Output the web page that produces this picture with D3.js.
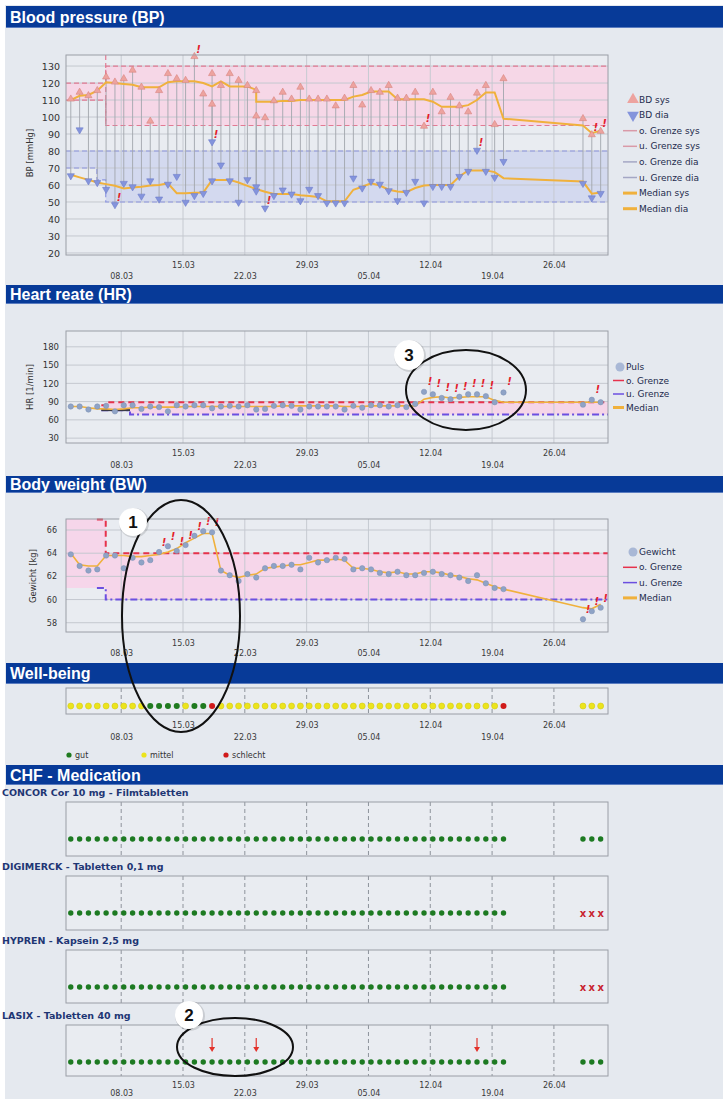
<!DOCTYPE html>
<html>
<head>
<meta charset="utf-8">
<title>Telemonitoring</title>
<script src="https://cdn.jsdelivr.net/npm/d3@7/dist/d3.min.js"></script>
<style>
  body { margin: 0; background: #ffffff; }
  svg { display: block; }
</style>
</head>
<body>
<script>
// ---- data ----
const tickLabels = ['08.03', '15.03', '22.03', '29.03', '05.04', '12.04', '19.04', '26.04'];

// measurement days (HR, BW, well-being, medication)
const days = ['02.03', '03.03', '04.03', '05.03', '06.03', '07.03', '08.03', '09.03', '10.03', '11.03',
  '12.03', '13.03', '14.03', '15.03', '16.03', '17.03', '18.03', '19.03', '20.03', '21.03',
  '22.03', '23.03', '24.03', '25.03', '26.03', '27.03', '28.03', '29.03', '30.03', '31.03',
  '01.04', '02.04', '03.04', '04.04', '05.04', '06.04', '07.04', '08.04', '09.04', '10.04',
  '11.04', '12.04', '13.04', '14.04', '15.04', '16.04', '17.04', '18.04', '19.04', '20.04',
  '29.04', '30.04', '01.05'];

// blood pressure (two readings on 18.03 and 23.03)
const bpDays = ['02.03', '03.03', '04.03', '05.03', '06.03', '07.03', '08.03', '09.03', '10.03', '11.03',
  '12.03', '13.03', '14.03', '15.03', '16.03', '17.03', '18.03', '18.03', '19.03', '20.03',
  '21.03', '22.03', '23.03', '23.03', '24.03', '25.03', '26.03', '27.03', '28.03', '29.03',
  '30.03', '31.03', '01.04', '02.04', '03.04', '04.04', '05.04', '06.04', '07.04', '08.04',
  '09.04', '10.04', '11.04', '12.04', '13.04', '14.04', '15.04', '16.04', '17.04', '18.04',
  '19.04', '20.04', '29.04', '30.04', '01.05'];
const bpSys = [110, 114, 112, 115, 123, 120, 122, 127, 117, 97,
  115, 125, 122, 121, 135, 113, 125, 107, 118, 125,
  121, 118, 115, 100, 99, 109, 114, 110, 117, 110,
  110, 110, 106, 110.5, 118, 106.5, 115, 114, 118, 110.5,
  110.5, 114, 94, 114, 102.5, 111, 106, 102.5, 113.5, 118,
  95, 122, 98.5, 89, 91];
const bpDia = [66, 93, 63, 62, 58, 49, 61.5, 59.5, 54, 63,
  52.3, 61, 65.6, 50.4, 54.3, 55.6, 63, 86, 72.3, 63,
  50.4, 63.7, 59.5, 57, 47, 54.3, 57.6, 55.2, 51.3, 58,
  54.3, 50, 50, 50, 64.6, 58.8, 62.7, 61, 57.2, 51.3,
  56.2, 62.7, 50, 59.7, 59.7, 59.7, 65.6, 68.6, 81, 68.6,
  65, 74.4, 61.5, 53, 55.6];
const bpMedianSys = [110, 112.5, 113, 115.5, 120.5, 120, 119.5, 119, 117.5, 117.5,
  117.5, 120.5, 121, 121, 121, 120, 118, 118, 121, 118,
  118, 118, 116, 109, 109, 109, 109.5, 109.5, 110, 110,
  110, 110, 110, 110, 112, 113, 115, 115, 115, 110.5,
  110.5, 110.5, 110.5, 109, 106, 106, 106, 107, 110, 114.5,
  114.5, 99, 95, 90.5, 92];
const bpMedianDia = [66, 64.5, 63, 61.5, 60.5, 59.5, 58, 58.5, 59, 59.7,
  60, 61, 55.2, 55.2, 55.4, 55.6, 63, 63, 63, 63,
  61.5, 59.5, 57.6, 57.6, 56, 54.7, 54.7, 54.7, 54, 53.5,
  53, 50.4, 50.4, 50.4, 57.2, 59, 61, 59.7, 57.2, 56.2,
  55.8, 58.2, 59.7, 60, 60, 60, 65, 68.6, 68.6, 68.6,
  67.6, 64, 62, 54.9, 55.6];
const bpLimitTimes = ['01.03 18', '05.03 06', '06.03 06', '02.05 03'];
const sysUpperLimit = [120, 120, 130, 130];
const sysLowerLimit = [110, 110, 95, 95];
const diaUpperLimit = [80, 80, 80, 80];
const diaLowerLimit = [70, 63, 50, 50];

// heart rate
const hrValues = [82, 82, 77, 82, 83, 74, 84, 84, 78, 82,
  81, 74, 84, 82, 84, 84, 79, 82, 83, 82,
  84, 77, 78, 83, 84, 83, 77, 82, 82, 82,
  82, 77, 83, 80, 84, 84, 82, 84, 81, 86,
  106, 102, 96, 94, 98, 102, 102, 99, 89, 105,
  85, 93, 89];
const hrMedian = [82, 82, 80, 78, 78, 77, 78, 80, 80, 81,
  81, 81, 81, 82, 82, 82, 82, 82, 82, 82,
  82, 82, 82, 82, 83, 83, 83, 83, 83, 83,
  83, 82, 82, 82, 83, 83, 83, 83, 83, 83,
  94, 97, 98, 96, 97, 98, 98, 98, 92, 89,
  89, 89, 89];
const hrLimitTimes = ['05.03 18', '06.03 06', '09.03 00', '02.05 03'];
const hrUpperLimit = [84, 89, 89, 89];
const hrLowerLimit = [76, 76, 69, 69];

// body weight
const bwValues = [63.9, 62.9, 62.5, 62.6, 63.8, 63.8, 62.7, 63.6, 63.2, 63.4,
  64.1, 64.6, 64.2, 64.7, 65.5, 65.9, 65.8, 62.5, 62.1, 61.6,
  62.2, 61.9, 62.7, 62.9, 62.9, 63.0, 62.6, 63.6, 63.2, 63.4,
  63.6, 63.5, 62.6, 62.7, 62.6, 62.3, 62.2, 62.4, 62.1, 62.1,
  62.3, 62.4, 62.2, 62.1, 61.9, 61.6, 62.1, 61.4, 61.0, 60.9,
  58.3, 59.0, 59.3];
const bwMedian = [64.0, 63.0, 62.9, 62.9, 63.8, 63.8, 63.8, 63.7, 63.7, 63.8,
  63.9, 64.1, 64.4, 64.9, 65.3, 65.7, 65.7, 62.5, 62.1, 61.9,
  62.1, 62.2, 62.7, 62.8, 62.9, 63.0, 63.0, 63.2, 63.4, 63.4,
  63.5, 63.4, 62.7, 62.7, 62.6, 62.4, 62.3, 62.4, 62.2, 62.2,
  62.4, 62.4, 62.3, 62.1, 62.0, 61.8, 61.7, 61.4, 61.1, 60.9,
  59.3, 59.2, 59.6];
const bwLimitTimes = ['01.03 18', '05.03 06', '06.03 06', '02.05 03'];
const bwUpperLimit = [67, 67, 64, 64];
const bwLowerLimit = [61, 61, 60, 60];

// well-being: g = gut, m = mittel, s = schlecht
const wellBeing = ('mmmmmmmmm' + 'gggg' + 'm' + 'gg' + 's' +
  'mmmmmmmm' + 'mmmmmmmm' + 'mmmmmmmm' + 'mmmmmmmm' + 's' + 'mmm').split('');
const wellLegend = [['g', 'gut'], ['m', 'mittel'], ['s', 'schlecht']];

// medication intake: o = taken, x = not taken
const medNames = ['CONCOR Cor 10 mg - Filmtabletten', 'DIGIMERCK - Tabletten 0,1 mg',
  'HYPREN - Kapsein 2,5 mg', 'LASIX - Tabletten 40 mg'];
const medIntake = [
  ('oooooooooo' + 'oooooooooo' + 'oooooooooo' + 'oooooooooo' + 'oooooooooo' + 'ooo').split(''),
  ('oooooooooo' + 'oooooooooo' + 'oooooooooo' + 'oooooooooo' + 'oooooooooo' + 'xxx').split(''),
  ('oooooooooo' + 'oooooooooo' + 'oooooooooo' + 'oooooooooo' + 'oooooooooo' + 'xxx').split(''),
  ('oooooooooo' + 'oooooooooo' + 'oooooooooo' + 'oooooooooo' + 'oooooooooo' + 'ooo').split('')
];
const lasixChanges = ['18.03', '23.03', '17.04'];

// ---- setup ----
const W = 723, H = 1099;
const FONT = '"DejaVu Sans", Verdana, sans-serif';
const HEAD_FONT = '"Liberation Sans", Arial, sans-serif';

function toDate(s, hour = 7) {
  const [dm, h] = s.split(' ');
  const [d, m] = dm.split('.').map(Number);
  return new Date(2008, m - 1, d, h === undefined ? hour : +h);
}

const x = d3.scaleTime().domain([toDate('01.03 18'), toDate('02.05 03')]).range([66, 608]);
const tickDates = tickLabels.map(s => toDate(s, 0));
const dayDates = days.map(d => toDate(d));

const svg = d3.select('body').append('svg').attr('width', W).attr('height', H);
svg.append('rect').attr('width', W).attr('height', H).attr('fill', '#e5e9ef');
svg.append('rect').attr('width', W).attr('height', 5).attr('fill', '#fff');
svg.append('rect').attr('width', 5).attr('height', H).attr('fill', '#fff');

function header(top, bottom, title) {
  svg.append('rect').attr('x', 6).attr('y', top).attr('width', W - 6).attr('height', bottom - top).attr('fill', '#073a98');
  svg.append('rect').attr('x', 6).attr('y', bottom - 1).attr('width', W - 6).attr('height', 1).attr('fill', '#5a7cc0');
  svg.append('text').attr('x', 10).attr('y', (top + bottom) / 2).attr('dy', '0.36em')
    .attr('font-family', HEAD_FONT).attr('font-weight', 'bold').attr('font-size', 16)
    .attr('fill', '#fff').text(title);
}

function plotBox(g, top, bottom) {
  g.append('rect').attr('x', 66).attr('y', top).attr('width', 542).attr('height', bottom - top).attr('fill', '#e9ecf1');
}

function grid(g, top, bottom, y, yTicks, dashed) {
  g.append('g').selectAll('line').data(tickDates).join('line')
    .attr('x1', d => x(d)).attr('x2', d => x(d)).attr('y1', top).attr('y2', bottom)
    .attr('stroke', dashed ? '#8e939b' : '#c6cad1').attr('stroke-width', 1)
    .attr('stroke-dasharray', dashed ? '4,3' : null);
  if (y) {
    g.append('g').selectAll('line').data(yTicks).join('line')
      .attr('x1', 66).attr('x2', 608).attr('y1', d => y(d)).attr('y2', d => y(d))
      .attr('stroke', '#c4c8cf').attr('stroke-width', 1);
  }
}

function border(g, top, bottom) {
  g.append('rect').attr('x', 66).attr('y', top).attr('width', 542).attr('height', bottom - top)
    .attr('fill', 'none').attr('stroke', '#9a9ea6').attr('stroke-width', 1);
}

function xLabels(g, bottom, up, low) {
  const a = g.append('g').attr('transform', `translate(0,${bottom})`)
    .call(d3.axisBottom(x).tickValues(tickDates).tickSize(0).tickFormat(d3.timeFormat('%d.%m')));
  a.select('.domain').remove();
  a.attr('font-family', FONT).attr('font-size', 8);
  a.selectAll('text').attr('y', (d, i) => i % 2 ? up : low).attr('dy', '0.35em').attr('fill', '#3a3a3a');
}

function yLabels(g, y, ticks, size, xr, title, tx, ty) {
  const a = g.append('g').attr('transform', `translate(${xr},0)`)
    .call(d3.axisLeft(y).tickValues(ticks).tickSize(0).tickPadding(0));
  a.select('.domain').remove();
  a.attr('font-family', FONT).attr('font-size', size);
  a.selectAll('text').attr('fill', '#333');
  g.append('text').attr('transform', `translate(${tx},${ty}) rotate(-90)`)
    .attr('text-anchor', 'middle').attr('font-family', FONT).attr('font-size', 8.5)
    .attr('fill', '#333').text(title);
}

function legend(items, mx, tx, y0, step) {
  const g = svg.append('g').attr('font-family', FONT).attr('font-size', 9).attr('fill', '#1d2b4d');
  items.forEach((it, i) => {
    const y = y0 + i * step;
    if (it.type === 'line') {
      g.append('line').attr('x1', mx).attr('x2', tx - 2).attr('y1', y).attr('y2', y)
        .attr('stroke', it.color).attr('stroke-width', it.width || 1.5);
    } else if (it.type === 'dot') {
      g.append('circle').attr('cx', tx - 6).attr('cy', y).attr('r', 4.5).attr('fill', it.color);
    } else {
      g.append('path').attr('d', d3.symbol(d3.symbolTriangle, 60)())
        .attr('transform', `translate(${tx - 6},${y}) rotate(${it.type === 'down' ? 180 : 0})`)
        .attr('fill', it.color);
    }
    g.append('text').attr('x', tx).attr('y', y).attr('dy', '0.35em').text(it.label);
  });
}

function flag(g, cx, cy) {
  g.append('text').attr('x', cx + 4).attr('y', cy - 3).attr('text-anchor', 'middle')
    .attr('font-family', FONT).attr('font-size', 10).attr('font-weight', 'bold')
    .attr('font-style', 'italic').attr('fill', '#e3202b').text('!');
}

const limitAt = (lims, t) => lims[Math.max(0, d3.bisector(d => d.t).right(lims, t) - 1)];

// ================= Blood pressure =================
header(6, 28, 'Blood pressure (BP)');
const bpTop = 55, bpBottom = 255;
const yBP = d3.scaleLinear().domain([18.8, 136.5]).range([bpBottom, bpTop]);
const bpTicks = [20, 30, 40, 50, 60, 70, 80, 90, 100, 110, 120, 130];
const bp = svg.append('g');
plotBox(bp, bpTop, bpBottom);

const bpLim = bpLimitTimes.map((s, i) => ({ t: toDate(s), su: sysUpperLimit[i], sl: sysLowerLimit[i], du: diaUpperLimit[i], dl: diaLowerLimit[i] }));
const step = d3.curveStepAfter;
bp.append('path').datum(bpLim).attr('fill', '#f6d7e7')
  .attr('d', d3.area().curve(step).x(d => x(d.t)).y0(d => yBP(d.sl)).y1(d => yBP(d.su)));
bp.append('path').datum(bpLim).attr('fill', '#d3d9ef')
  .attr('d', d3.area().curve(step).x(d => x(d.t)).y0(d => yBP(d.dl)).y1(d => yBP(d.du)));
grid(bp, bpTop, bpBottom, yBP, bpTicks, false);

const sysLimColor = '#e27a93', diaLimColor = '#8d96e2';
[['su', sysLimColor], ['sl', sysLimColor], ['du', diaLimColor], ['dl', diaLimColor]].forEach(([k, c]) => {
  bp.append('path').datum(bpLim).attr('fill', 'none').attr('stroke', c).attr('stroke-width', 1.2)
    .attr('stroke-dasharray', '5,3')
    .attr('d', d3.line().curve(step).x(d => x(d.t)).y(d => yBP(d[k])));
});
bp.append('line').attr('x1', x(bpLim[2].t)).attr('x2', x(bpLim[2].t))
  .attr('y1', bpTop).attr('y2', yBP(bpLim[2].sl))
  .attr('stroke', sysLimColor).attr('stroke-width', 1.2).attr('stroke-dasharray', '5,3');

const bpData = bpDays.map((d, i) => ({ t: toDate(d), sys: bpSys[i], dia: bpDia[i], ms: bpMedianSys[i], md: bpMedianDia[i] }));
bp.append('g').selectAll('line').data(bpData).join('line')
  .attr('x1', d => x(d.t)).attr('x2', d => x(d.t))
  .attr('y1', d => yBP(d.sys)).attr('y2', d => yBP(d.dia))
  .attr('stroke', '#a2a6ad').attr('stroke-width', 0.9);

const medColor = '#f0b13c';
['ms', 'md'].forEach(k => {
  bp.append('path').datum(bpData).attr('fill', 'none').attr('stroke', medColor).attr('stroke-width', 2)
    .attr('d', d3.line().x(d => x(d.t)).y(d => yBP(d[k])));
});

const tri = d3.symbol(d3.symbolTriangle, 22)();
bp.append('g').selectAll('path').data(bpData).join('path').attr('d', tri)
  .attr('transform', d => `translate(${x(d.t)},${yBP(d.sys) - 1})`)
  .attr('fill', '#eda39f').attr('stroke', '#d8857f').attr('stroke-width', 0.6);
bp.append('g').selectAll('path').data(bpData).join('path').attr('d', tri)
  .attr('transform', d => `translate(${x(d.t)},${yBP(d.dia) + 1}) rotate(180)`)
  .attr('fill', '#8494dc').attr('stroke', '#6e7ecb').attr('stroke-width', 0.6);

const bpFlagFrom = bpLim[2].t;
bpData.forEach(d => {
  if (d.t < bpFlagFrom) return;
  const l = limitAt(bpLim, d.t);
  if (d.sys > l.su || d.sys < l.sl) flag(bp, x(d.t), yBP(d.sys) - 2);
  if (d.dia > l.du || d.dia < l.dl) flag(bp, x(d.t), yBP(d.dia));
});
border(bp, bpTop, bpBottom);
xLabels(bp, bpBottom, 10, 21);
yLabels(bp, yBP, bpTicks, 9.5, 60, 'BP [mmHg]', 33, 153);

legend([
  { label: 'BD sys', type: 'up', color: '#eda39f' },
  { label: 'BD dia', type: 'down', color: '#8494dc' },
  { label: 'o. Grenze sys', type: 'line', color: '#d99aa8' },
  { label: 'u. Grenze sys', type: 'line', color: '#d99aa8' },
  { label: 'o. Grenze dia', type: 'line', color: '#a4a7c4' },
  { label: 'u. Grenze dia', type: 'line', color: '#a4a7c4' },
  { label: 'Median sys', type: 'line', color: medColor, width: 3 },
  { label: 'Median dia', type: 'line', color: medColor, width: 3 }
], 623, 639, 99.5, 15.6);

// ================= Heart rate =================
header(285, 304, 'Heart reate (HR)');
const hrTop = 331, hrBottom = 443;
const yHR = d3.scaleLinear().domain([22, 206]).range([hrBottom, hrTop]);
const hrTicks = [30, 60, 90, 120, 150, 180];
const hr = svg.append('g');
plotBox(hr, hrTop, hrBottom);
const hrLim = hrLimitTimes.map((s, i) => ({ t: toDate(s), u: hrUpperLimit[i], l: hrLowerLimit[i] }));
hr.append('path').datum(hrLim).attr('fill', '#f5d5e8')
  .attr('d', d3.area().curve(step).x(d => x(d.t)).y0(d => yHR(d.l)).y1(d => yHR(d.u)));
grid(hr, hrTop, hrBottom, yHR, hrTicks, false);

const redLim = '#e6324c', blueLim = '#6b4fe0';
hr.append('path').datum(hrLim).attr('fill', 'none').attr('stroke', blueLim).attr('stroke-width', 2)
  .attr('stroke-dasharray', '7,3,2,3')
  .attr('d', d3.line().curve(step).x(d => x(d.t)).y(d => yHR(d.l)));
hr.append('line').attr('x1', x(hrLim[0].t)).attr('x2', x(hrLim[2].t))
  .attr('y1', yHR(hrLim[0].l)).attr('y2', yHR(hrLim[0].l))
  .attr('stroke', '#3a3a48').attr('stroke-width', 2);
hr.append('path').datum(hrLim).attr('fill', 'none').attr('stroke', redLim).attr('stroke-width', 2)
  .attr('stroke-dasharray', '6,4')
  .attr('d', d3.line().curve(step).x(d => x(d.t)).y(d => yHR(d.u)));

const hrData = dayDates.map((t, i) => ({ t, v: hrValues[i], m: hrMedian[i] }));
hr.append('path').datum(hrData).attr('fill', 'none').attr('stroke', medColor).attr('stroke-width', 1.6)
  .attr('d', d3.line().x(d => x(d.t)).y(d => yHR(d.m)));
hr.append('g').selectAll('circle').data(hrData).join('circle')
  .attr('cx', d => x(d.t)).attr('cy', d => yHR(d.v)).attr('r', 2.7)
  .attr('fill', '#8fa3c6').attr('stroke', '#7b8fb3').attr('stroke-width', 0.5);
const hrFlagFrom = hrLim[2].t;
hrData.forEach(d => {
  if (d.t < hrFlagFrom) return;
  const l = limitAt(hrLim, d.t);
  if (d.v > l.u || d.v < l.l) flag(hr, x(d.t) + 2, yHR(d.v) - 4);
});
border(hr, hrTop, hrBottom);
xLabels(hr, hrBottom, 10, 22);
yLabels(hr, yHR, hrTicks, 8.5, 59, 'HR [1/min]', 33, 387);

legend([
  { label: 'Puls', type: 'dot', color: '#a9b8d6' },
  { label: 'o. Grenze', type: 'line', color: redLim },
  { label: 'u. Grenze', type: 'line', color: blueLim },
  { label: 'Median', type: 'line', color: medColor, width: 3 }
], 613, 626, 367, 13.5);

// ================= Body weight =================
header(476, 493, 'Body weight (BW)');
const bwTop = 519, bwBottom = 632;
const yBW = d3.scaleLinear().domain([57.2, 66.95]).range([bwBottom, bwTop]);
const bwTicks = [58, 60, 62, 64, 66];
const bw = svg.append('g');
plotBox(bw, bwTop, bwBottom);
const bwLim = bwLimitTimes.map((s, i) => ({ t: toDate(s), u: bwUpperLimit[i], l: bwLowerLimit[i] }));
bw.append('path').datum(bwLim).attr('fill', '#f6d6ea')
  .attr('d', d3.area().curve(step).x(d => x(d.t)).y0(d => yBW(d.l)).y1(d => yBW(Math.min(d.u, 66.95))));
grid(bw, bwTop, bwBottom, yBW, bwTicks, false);
bw.append('path').datum(bwLim.slice(1)).attr('fill', 'none').attr('stroke', blueLim).attr('stroke-width', 2)
  .attr('stroke-dasharray', '7,3,2,3')
  .attr('d', d3.line().curve(step).x(d => x(d.t)).y(d => yBW(d.l)));
bw.append('path').datum(bwLim.slice(1)).attr('fill', 'none').attr('stroke', redLim).attr('stroke-width', 2)
  .attr('stroke-dasharray', '6,4')
  .attr('d', d3.line().curve(step).x(d => x(d.t)).y(d => yBW(Math.min(d.u, 66.9))));

const bwData = dayDates.map((t, i) => ({ t, v: bwValues[i], m: bwMedian[i] }));
bw.append('path').datum(bwData).attr('fill', 'none').attr('stroke', medColor).attr('stroke-width', 1.6)
  .attr('d', d3.line().x(d => x(d.t)).y(d => yBW(d.m)));
bw.append('g').selectAll('circle').data(bwData).join('circle')
  .attr('cx', d => x(d.t)).attr('cy', d => yBW(d.v)).attr('r', 2.7)
  .attr('fill', '#8fa3c6').attr('stroke', '#7b8fb3').attr('stroke-width', 0.5);
const bwFlagFrom = bwLim[2].t;
bwData.forEach(d => {
  if (d.t < bwFlagFrom) return;
  const l = limitAt(bwLim, d.t);
  if (d.v > l.u || d.v < l.l) flag(bw, x(d.t) + 1, yBW(d.v) - 3);
});
border(bw, bwTop, bwBottom);
xLabels(bw, bwBottom, 11, 21);
yLabels(bw, yBW, bwTicks, 8, 57, 'Gewicht [kg]', 36, 576);

legend([
  { label: 'Gewicht', type: 'dot', color: '#a9b8d6' },
  { label: 'o. Grenze', type: 'line', color: redLim },
  { label: 'u. Grenze', type: 'line', color: blueLim },
  { label: 'Median', type: 'line', color: medColor, width: 3 }
], 623, 639, 552, 15.3);

// ================= Well-being =================
header(663, 684, 'Well-being');
const wbTop = 688, wbBottom = 714;
const wbColor = { g: '#1f7a1f', m: '#ece41c', s: '#d01a1a' };
const wb = svg.append('g');
plotBox(wb, wbTop, wbBottom);
grid(wb, wbTop, wbBottom, null, null, true);
border(wb, wbTop, wbBottom);
wb.append('g').selectAll('circle').data(dayDates).join('circle')
  .attr('cx', d => x(d)).attr('cy', 706).attr('r', 3)
  .attr('fill', (d, i) => wbColor[wellBeing[i]])
  .attr('stroke', (d, i) => wellBeing[i] === 'm' ? '#d2cb10' : 'none').attr('stroke-width', 0.6);
xLabels(wb, wbBottom, 11, 23);
const wl = svg.append('g').attr('font-family', FONT).attr('font-size', 8).attr('fill', '#333');
wellLegend.forEach(([k, label], i) => {
  const lx = [69, 144, 226][i];
  wl.append('circle').attr('cx', lx).attr('cy', 755).attr('r', 2.6).attr('fill', wbColor[k]);
  wl.append('text').attr('x', lx + 6).attr('y', 755).attr('dy', '0.35em').text(label);
});

// ================= Medication =================
header(765, 785, 'CHF - Medication');
const medTops = [802, 876, 950, 1025];
const medHeights = [54, 54, 53, 51];
medNames.forEach((name, k) => {
  const top = medTops[k], bottom = top + medHeights[k];
  const g = svg.append('g');
  g.append('text').attr('x', 2).attr('y', top - 9).attr('dy', '0.35em')
    .attr('font-family', FONT).attr('font-size', 9.5).attr('font-weight', 'bold')
    .attr('fill', '#1e3674').text(name);
  plotBox(g, top, bottom);
  grid(g, top, bottom, null, null, true);
  border(g, top, bottom);
  const dotY = top + 37;
  const intake = medIntake[k];
  g.append('g').selectAll('circle').data(dayDates.filter((d, i) => intake[i] === 'o')).join('circle')
    .attr('cx', d => x(d)).attr('cy', dotY).attr('r', 2.7).attr('fill', '#1d7a22');
  g.append('g').selectAll('text').data(dayDates.filter((d, i) => intake[i] === 'x')).join('text')
    .attr('x', d => x(d)).attr('y', dotY).attr('dy', '0.35em').attr('text-anchor', 'middle')
    .attr('font-family', FONT).attr('font-size', 10).attr('font-weight', 'bold')
    .attr('fill', '#c8232d').text('x');
  if (k === medNames.length - 1) {
    lasixChanges.forEach(s => {
      const ax = x(toDate(s));
      g.append('line').attr('x1', ax).attr('x2', ax).attr('y1', top + 13).attr('y2', top + 24)
        .attr('stroke', '#e3312a').attr('stroke-width', 1.2);
      g.append('path').attr('d', `M${ax - 3},${top + 22}L${ax + 3},${top + 22}L${ax},${top + 27}Z`).attr('fill', '#e3312a');
    });
    xLabels(g, bottom, 9, 17);
  }
});

// ================= annotations =================
const notes = svg.append('g');
function note(cx, cy, rx, ry, bx, by, r, label) {
  notes.append('ellipse').attr('cx', cx).attr('cy', cy).attr('rx', rx).attr('ry', ry)
    .attr('fill', 'none').attr('stroke', '#111').attr('stroke-width', 2);
  notes.append('circle').attr('cx', bx + 1).attr('cy', by + 1).attr('r', r + 1).attr('fill', 'rgba(0,0,0,0.12)');
  notes.append('circle').attr('cx', bx).attr('cy', by).attr('r', r).attr('fill', '#fff');
  notes.append('text').attr('x', bx).attr('y', by).attr('dy', '0.36em').attr('text-anchor', 'middle')
    .attr('font-family', HEAD_FONT).attr('font-weight', 'bold').attr('font-size', 17)
    .attr('fill', '#111').text(label);
}
note(181, 616, 59, 116, 133, 522, 14, '1');
note(466, 390, 60, 40, 409, 355, 15, '3');
note(235, 1047, 58, 29, 189, 1015, 14, '2');
</script>
</body>
</html>
